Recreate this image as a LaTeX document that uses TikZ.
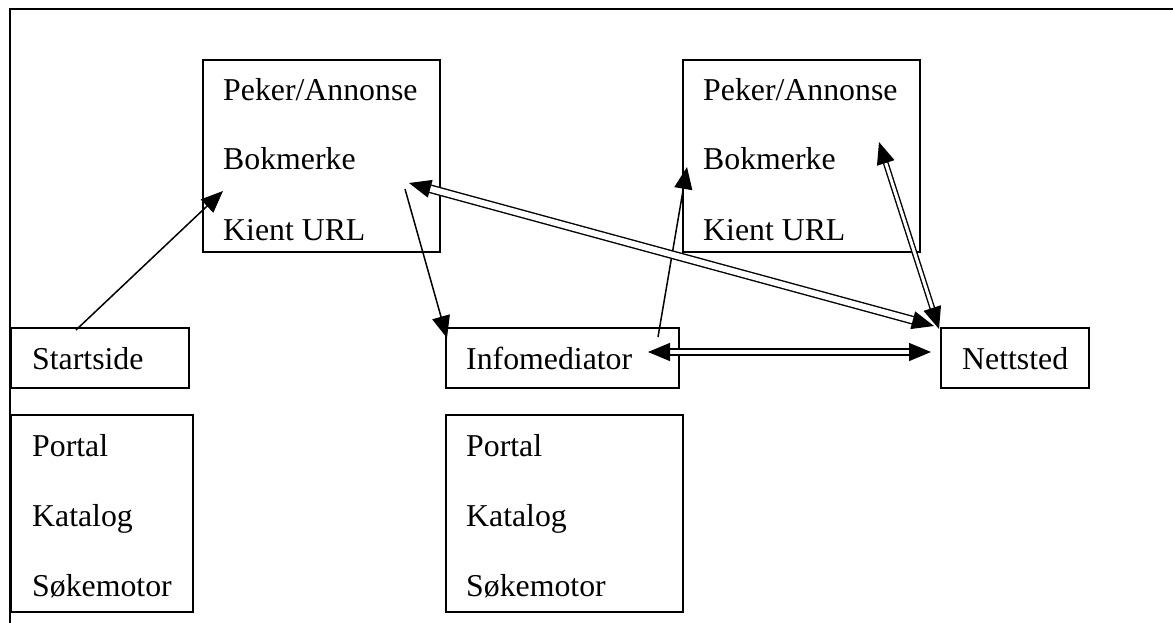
\documentclass[tikz,border=0pt]{standalone}
\usepackage{fontspec}
\setmainfont{Liberation Serif}
\usetikzlibrary{arrows.meta,calc}
\begin{document}
\begin{tikzpicture}[x=1pt,y=-1pt,
  box/.style={draw,line width=1.5pt,anchor=north west,inner sep=0pt,outer sep=0pt},
  txt/.style={anchor=base west,inner sep=0pt,font=\fontsize{31.8}{38}\selectfont},
  tip/.tip={Triangle[length=22pt,width=18pt]},
  conn/.style={line width=1.5pt,-tip},
  dconn/.style={line width=1.4pt,double,double distance=#1,tip-tip},
  dconn/.default=5pt
]
\useasboundingbox (0,0) rectangle (1173,623);
% outer frame
\draw[line width=2pt] (10,640) -- (10,9) -- (1190,9);
% boxes
\node[box,minimum width=237pt,minimum height=192pt] (bmL) at (203,60) {};
\node[box,minimum width=237pt,minimum height=192pt] (bmR) at (683,60) {};
\node[box,minimum width=178pt,minimum height=60pt] (start) at (11,328) {};
\node[box,minimum width=233pt,minimum height=60pt] (info) at (446,328) {};
\node[box,minimum width=148pt,minimum height=60pt] (nett) at (941,328) {};
\node[box,minimum width=182pt,minimum height=197pt] (portL) at (11,415) {};
\node[box,minimum width=237pt,minimum height=197pt] (portM) at (446,415) {};
% texts
\node[txt] (t1) at (223,101) {Peker/Annonse};
\node[txt] (t2) at (223,170) {Bokmerke};
\node[txt] (t4) at (703,101) {Peker/Annonse};
\node[txt] (t5) at (703,170) {Bokmerke};
\begin{scope}
\clip (200,200) rectangle (930,243);
\node[txt] (t3) at (223,240) {Kient URL};
\node[txt] (t6) at (703,240) {Kient URL};
\end{scope}
\node[txt] (t7) at (32,369) {Startside};
\node[txt] (t8) at (466,369) {Infomediator};
\node[txt] (t9) at (962,369) {Nettsted};
\node[txt] (t10) at (32,456) {Portal};
\node[txt] (t11) at (32,526) {Katalog};
\node[txt] (t12) at (32,596) {Søkemotor};
\node[txt] (t13) at (466,456) {Portal};
\node[txt] (t14) at (466,526) {Katalog};
\node[txt] (t15) at (466,596) {Søkemotor};
% connectors
\draw[conn] ($(start.north west)+(65,2)$) -- ($(bmL.north west)+(20,131)$);
\draw[conn] ($(bmL.north west)+(202,129)$) -- ($(info.north west)+(1,10)$);
\draw[conn] ($(info.north west)+(212,9)$) -- ($(bmR.north west)+(4,107)$);
\draw[dconn=6pt] ($(bmL.north west)+(206,123)$) -- ($(nett.north west)+(-7,-2)$);
\draw[dconn=3pt] ($(bmR.north west)+(196,82)$) -- ($(nett.north west)+(-2,1)$);
\draw[dconn=4.5pt] ($(info.north west)+(202,24)$) -- ($(nett.north west)+(-10,24)$);
\end{tikzpicture}
\end{document}
